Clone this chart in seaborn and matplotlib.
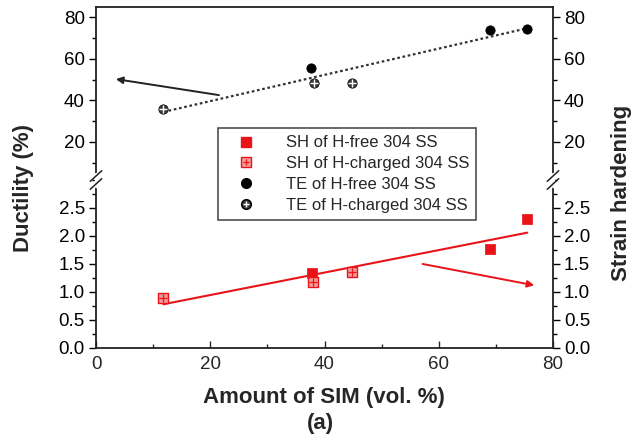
import numpy as np
import pandas as pd
import matplotlib
matplotlib.use("Agg")
import matplotlib.pyplot as plt
import seaborn as sns
from matplotlib.ticker import MultipleLocator
from matplotlib.lines import Line2D

sns.set_theme(style="ticks")
plt.rcParams['font.family'] = ['Liberation Sans', 'DejaVu Sans']

# ---- data ----
te_free_x = [37.6, 69.0, 75.5]
te_free_y = [55.7, 73.8, 74.2]
te_chg_x = [11.8, 38.2, 44.8]
te_chg_y = [35.9, 48.5, 48.5]
sh_free_x = [37.8, 69.0, 75.5]
sh_free_y = [1.345, 1.76, 2.30]
sh_chg_x = [11.8, 38.0, 44.9]
sh_chg_y = [0.90, 1.17, 1.35]

labels = ["SH of H-free 304 SS", "SH of H-charged 304 SS",
          "TE of H-free 304 SS", "TE of H-charged 304 SS"]

te_all = pd.DataFrame({"x": te_free_x + te_chg_x, "y": te_free_y + te_chg_y})
sh_all = pd.DataFrame({"x": sh_free_x + sh_chg_x, "y": sh_free_y + sh_chg_y})

RED = "#e8141a"

fig = plt.figure(figsize=(6.4, 4.43), dpi=100)
L, R = 96/640, 553/640
ytop, ymid, ybot = 1-7/443, 1-180/443, 1-348/443
ax_t = fig.add_axes([L, ymid, R-L, ytop-ymid])
ax_b = fig.add_axes([L, ybot, R-L, ymid-ybot], sharex=ax_t)

# top panel: TE
sns.regplot(data=te_all, x="x", y="y", ax=ax_t, scatter=False, ci=None,
            line_kws=dict(color="#333333", lw=1.6, ls=(0, (1.2, 1.2))))
sns.scatterplot(x=te_free_x, y=te_free_y, ax=ax_t, marker="o", s=45,
                color="black", edgecolor="black", zorder=5)
sns.scatterplot(x=te_chg_x, y=te_chg_y, ax=ax_t, marker="o", s=45,
                color="#3a3a3a", edgecolor="black", zorder=5)
sns.scatterplot(x=te_chg_x, y=te_chg_y, ax=ax_t, marker="+", s=30,
                color="white", linewidth=1.0, zorder=6)

# bottom panel: SH
sns.regplot(data=sh_all, x="x", y="y", ax=ax_b, scatter=False, ci=None,
            line_kws=dict(color=RED, lw=1.5))
sns.scatterplot(x=sh_free_x, y=sh_free_y, ax=ax_b, marker="s", s=45,
                color=RED, edgecolor=RED, zorder=5)
sns.scatterplot(x=sh_chg_x, y=sh_chg_y, ax=ax_b, marker="s", s=45,
                color="#f29a9a", edgecolor=RED, linewidth=1.0, zorder=5)
sns.scatterplot(x=sh_chg_x, y=sh_chg_y, ax=ax_b, marker="+", s=30,
                color=RED, linewidth=0.9, zorder=6)

# arrows
ax_t.annotate("", xy=(3.0, 50.4), xytext=(22.0, 42.3),
              arrowprops=dict(arrowstyle="-|>", color="#222222", lw=1.4,
                              mutation_scale=10, fill=False))
ax_b.annotate("", xy=(77.2, 1.11), xytext=(56.7, 1.51),
              arrowprops=dict(arrowstyle="-|>", color=RED, lw=1.4,
                              mutation_scale=10))

# limits & ticks
ax_t.set_xlim(0, 80)
ax_t.set_ylim(1.76, 84.8)
ax_b.set_ylim(0, 3.0)
for ax in (ax_t, ax_b):
    ax.set_xlabel("")
    ax.set_ylabel("")
    ax.yaxis.set_ticks_position("both")
    ax.tick_params(axis="y", which="both", direction="out", labelleft=True,
                   labelright=True, labelsize=13.5, colors="black",
                   pad=3)
    ax.tick_params(axis="y", which="major", length=5, width=1)
    ax.tick_params(axis="y", which="minor", length=3, width=1)
    for s in ax.spines.values():
        s.set_linewidth(1.3)
        s.set_color("#222222")
ax_t.set_yticks([20, 40, 60, 80])
ax_t.yaxis.set_minor_locator(MultipleLocator(10))
ax_b.set_yticks([0.0, 0.5, 1.0, 1.5, 2.0, 2.5])
ax_b.set_yticklabels(["0.0", "0.5", "1.0", "1.5", "2.0", "2.5"])
ax_b.yaxis.set_minor_locator(MultipleLocator(0.25))
ax_t.tick_params(axis="x", which="both", bottom=False, top=False, labelbottom=False)
ax_b.set_xticks([0, 20, 40, 60, 80])
ax_b.xaxis.set_minor_locator(MultipleLocator(10))
ax_b.tick_params(axis="x", which="both", direction="in", top=False,
                 labelsize=13.5, pad=6)
ax_b.tick_params(axis="x", which="major", length=5, width=1)
ax_b.tick_params(axis="x", which="minor", length=3, width=1)
ax_t.spines["bottom"].set_visible(False)
ax_b.spines["top"].set_visible(False)

# break marks
for xa in (0, 1):
    x0 = L + (R-L)*xa
    fig.add_artist(Line2D([x0, x0], [ymid - 0.014, ymid + 0.014], color="white",
                          lw=2.5, transform=fig.transFigure, zorder=10))
    for dy in (-0.009, 0.009):
        fig.add_artist(Line2D([x0 - 0.009, x0 + 0.009],
                              [ymid + dy - 0.012, ymid + dy + 0.012],
                              color="#222222", lw=1.1, transform=fig.transFigure,
                              zorder=11))

# labels
fig.text(24/640, 1-188/443, "Ductility (%)", rotation=90, ha="center", va="center",
         fontsize=16, fontweight="bold")
fig.text(622/640, 1-193/443, "Strain hardening", rotation=90, ha="center", va="center",
         fontsize=16, fontweight="bold")
fig.text(324/640, 1-398/443, "Amount of SIM (vol. %)", ha="center", va="center",
         fontsize=16, fontweight="bold")
fig.text(320/640, 1-424/443, "(a)", ha="center", va="center",
         fontsize=16, fontweight="bold")

# legend
h1 = Line2D([], [], ls="", marker="s", ms=7, color=RED)
h2a = Line2D([], [], ls="", marker="s", ms=7, mfc="#f29a9a", mec=RED)
h2b = Line2D([], [], ls="", marker="+", ms=5, color=RED, mew=0.9)
h3 = Line2D([], [], ls="", marker="o", ms=7, color="black")
h4a = Line2D([], [], ls="", marker="o", ms=7, mfc="#3a3a3a", mec="black")
h4b = Line2D([], [], ls="", marker="+", ms=5, color="white", mew=1.0)
leg = fig.legend([h1, (h2a, h2b), h3, (h4a, h4b)], labels,
                 loc="upper left", bbox_to_anchor=(218/640, 1-128/443),
                 borderaxespad=0, frameon=True, fancybox=False, fontsize=12,
                 handletextpad=1.2, borderpad=0.45, labelspacing=0.35,
                 handlelength=2.4)
leg.get_frame().set_edgecolor("#222222")
leg.get_frame().set_linewidth(1.2)

fig.savefig("out.png", dpi=100)
